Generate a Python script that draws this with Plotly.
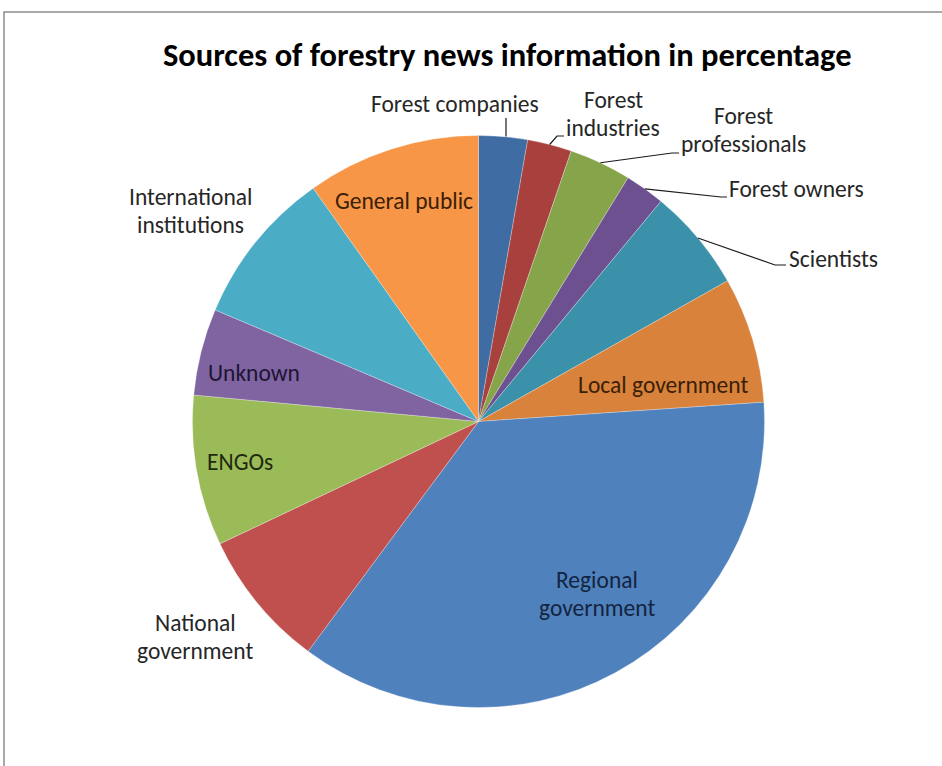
import math
import plotly.graph_objects as go

# ---------------- data ----------------
labels = ["Forest companies", "Forest industries", "Forest professionals",
          "Forest owners", "Scientists", "Local government",
          "Regional government", "National government", "ENGOs",
          "Unknown", "International institutions", "General public"]
values = [2.75, 2.5, 3.5, 2.25, 5.8, 7.1, 36.2, 7.8, 8.5, 4.9, 8.8, 9.8]
colors = ["#3F6CA2", "#A8403D", "#86A449", "#6C508F", "#3B91A9", "#D8823B",
          "#4F81BD", "#C0504D", "#9BBB59", "#8064A2", "#4BACC6", "#F79646"]
title_text = "Sources of forestry news information in percentage"

# ---------------- layout geometry (pixels) ----------------
W, H = 942, 766
CX, CY, R = 478.5, 421.5, 286.0
FONT = "Carlito, Calibri, Lato, sans-serif"
LSIZE = 23.5
LINE_GAP = 28


def px(x, y):
    return x / W, 1 - y / H


dom_x = [(CX - R) / W, (CX + R) / W]
dom_y = [1 - (CY + R) / H, 1 - (CY - R) / H]

fig = go.Figure(go.Pie(
    labels=labels, values=values, sort=False, direction="clockwise",
    rotation=0, textinfo="none", hoverinfo="label+percent",
    marker=dict(colors=colors, line=dict(color="rgba(255,255,255,0.45)", width=0.6)),
    domain=dict(x=dom_x, y=dom_y), showlegend=False,
))

# mid-angle edge points computed from the data
total = sum(values)
edge = {}
acc = 0.0
for lab, v in zip(labels, values):
    mid = (acc + v / 2) / total * 2 * math.pi
    edge[lab] = (CX + R * math.sin(mid), CY - R * math.cos(mid))
    acc += v

annotations = []
shapes = []

# label placement: (lines, x, y-centre, xanchor, colour)
label_pos = {
    "Forest companies": (["Forest companies"], 455, 104, "center", "#262626"),
    "Forest industries": (["Forest", "industries"], 613, 114, "center", "#262626"),
    "Forest professionals": (["Forest", "professionals"], 743, 130, "center", "#262626"),
    "Forest owners": (["Forest owners"], 727, 189, "left", "#262626"),
    "Scientists": (["Scientists"], 787, 259, "left", "#262626"),
    "Local government": (["Local government"], 663, 385, "center", "#3a2008"),
    "Regional government": (["Regional", "government"], 597, 594, "center", "#14243f"),
    "National government": (["National", "government"], 195, 637, "center", "#262626"),
    "ENGOs": (["ENGOs"], 240, 462, "center", "#1e2a0e"),
    "Unknown": (["Unknown"], 254, 373, "center", "#1c1533"),
    "International institutions": (["International", "institutions"], 190, 211, "center", "#262626"),
    "General public": (["General public"], 404, 201, "center", "#3a2008"),
}
for lab in labels:
    lines, x, y, xa, col = label_pos[lab]
    n = len(lines)
    for i, line in enumerate(lines):
        yy = y + (i - (n - 1) / 2) * LINE_GAP
        ax, ay = px(x, yy)
        annotations.append(dict(text=line, x=ax, y=ay, xref="paper", yref="paper",
                                xanchor=xa, yanchor="middle", showarrow=False,
                                font=dict(family=FONT, size=LSIZE, color=col)))

# leader lines: edge point -> elbow -> stub end
leaders = {
    "Forest companies": [(506, 118)],
    "Forest industries": [(557, 136), (564, 136)],
    "Forest professionals": [(672, 153), (679, 153)],
    "Forest owners": [(721, 197), (727, 197)],
    "Scientists": [(775, 265), (786, 265)],
}
for lab, pts in leaders.items():
    ex, ey = edge[lab]
    if lab == "Forest companies":
        ex, ey = pts[0][0], ey
    seq = [(ex, ey)] + pts
    path = "M " + " L ".join("%.5f,%.5f" % px(x, y) for x, y in seq)
    shapes.append(dict(type="path", path=path, xref="paper", yref="paper",
                       line=dict(color="#1a1a1a", width=1.2)))

# chart border
bx0, by0 = px(4, 12)
shapes.append(dict(type="rect", xref="paper", yref="paper", x0=bx0, y0=-0.05,
                   x1=1.05, y1=by0, line=dict(color="#8c8c8c", width=1.5),
                   fillcolor="rgba(0,0,0,0)", layer="below"))

tx, ty = px(507, 55)
annotations.append(dict(text="<b>" + title_text + "</b>", x=tx, y=ty,
                        xref="paper", yref="paper", xanchor="center",
                        yanchor="middle", showarrow=False,
                        font=dict(family=FONT, size=32.5, color="#000000")))

fig.update_layout(width=W, height=H, margin=dict(l=0, r=0, t=0, b=0),
                  paper_bgcolor="white", plot_bgcolor="white",
                  annotations=annotations, shapes=shapes)

fig.write_html("out.html", config={"displayModeBar": False},
               post_script="document.body.style.margin='0';")
